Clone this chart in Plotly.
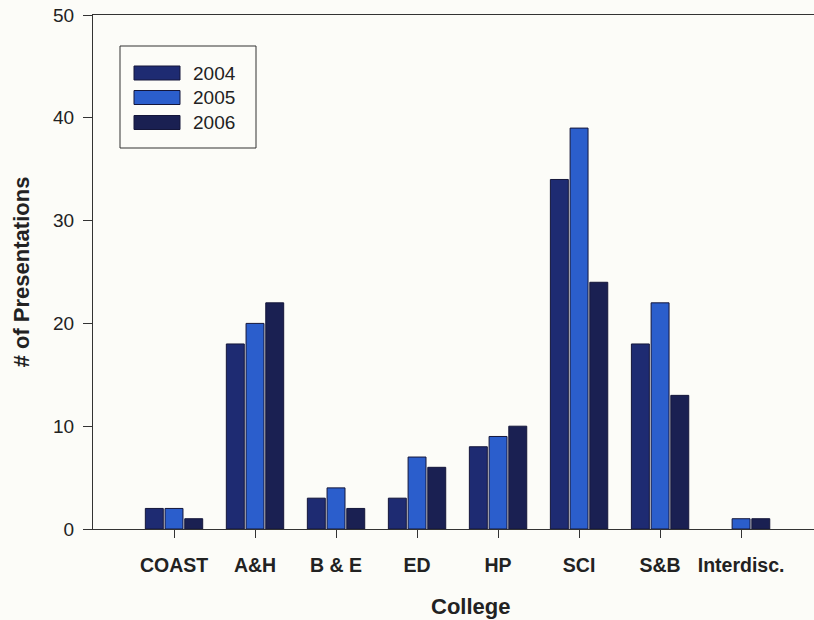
import plotly.graph_objects as go

colleges = ["COAST", "A&H", "B & E", "ED", "HP", "SCI", "S&B", "Interdisc."]
years = ["2004", "2005", "2006"]
v2004 = [2, 18, 3, 3, 8, 34, 18, 0]
v2005 = [2, 20, 4, 7, 9, 39, 22, 1]
v2006 = [1, 22, 2, 6, 10, 24, 13, 1]
y_ticks = [0, 10, 20, 30, 40, 50]

series = [v2004, v2005, v2006]
colors = ["#1e2b72", "#2b5ecc", "#1a2052"]

W, H = 814, 620
ML, MR, MT, MB = 93, 0, 15, 91
PW, PH = W - ML - MR, H - MT - MB
FONT = "Liberation Sans, Arial"

def px(x):
    return (x - ML) / PW

def py(y):
    return (H - MB - y) / PH

fig = go.Figure()
idx = list(range(len(colleges)))
for name, vals, col in zip(years, series, colors):
    fig.add_trace(go.Bar(
        x=idx, y=vals, name=name,
        marker=dict(color=col,
                    line=dict(color="#14163a",
                              width=[1 if v > 0 else 0 for v in vals])),
        showlegend=False,
    ))

# custom legend (wide swatches like the original)
shapes = [dict(type="rect", xref="paper", yref="paper",
               x0=px(120), x1=px(256), y0=py(148), y1=py(46),
               line=dict(color="#333333", width=1), fillcolor="rgba(0,0,0,0)")]
annotations = []
row_y = [73, 97.5, 122.5]
for name, col, ry in zip(years, colors, row_y):
    shapes.append(dict(type="rect", xref="paper", yref="paper",
                       x0=px(134), x1=px(180), y0=py(ry + 7), y1=py(ry - 7),
                       line=dict(color="#14163a", width=1), fillcolor=col))
    annotations.append(dict(xref="paper", yref="paper", x=px(191), y=py(ry),
                            xanchor="left", yanchor="middle", text=name,
                            showarrow=False,
                            font=dict(family=FONT, size=19, color="#222222")))

# x-axis title (placed to match the original's off-centre position)
annotations.append(dict(xref="paper", yref="paper", x=px(470), y=py(606),
                        xanchor="center", yanchor="middle", text="<b>College</b>",
                        showarrow=False,
                        font=dict(family=FONT, size=22, color="#222222")))

fig.update_layout(
    width=W, height=H, autosize=False,
    margin=dict(l=ML, r=MR, t=MT, b=MB),
    paper_bgcolor="#fcfcf8", plot_bgcolor="#fcfcf8",
    barmode="group", bargap=0.27, bargroupgap=0.09,
    shapes=shapes, annotations=annotations,
    font=dict(family=FONT, color="#222222"),
)
fig.update_xaxes(
    range=[-1, 7.9], tickmode="array", tickvals=idx, ticktext=colleges,
    showline=True, linecolor="#333333", linewidth=1.3, mirror=True,
    ticks="outside", ticklen=8, tickcolor="#333333", tickwidth=1.2,
    tickfont=dict(size=19.5, family=FONT, color="#222222", weight="bold"),
    ticklabelstandoff=10,
    showgrid=False, zeroline=False, automargin=False,
)
fig.update_yaxes(
    range=[0, 50], tickmode="array", tickvals=y_ticks,
    showline=True, linecolor="#333333", linewidth=1.3,
    ticks="outside", ticklen=9, tickcolor="#333333", tickwidth=1.2,
    tickfont=dict(size=19, family=FONT, color="#222222"),
    ticklabelstandoff=5,
    showgrid=False, zeroline=False, automargin=False,
    title=dict(text="<b># of Presentations</b>", standoff=17,
               font=dict(size=22, family=FONT, color="#222222")),
)

fig.write_html("out.html",
               config={"displayModeBar": False},
               post_script="document.body.style.margin='0';document.body.style.background='#fcfcf8';")
